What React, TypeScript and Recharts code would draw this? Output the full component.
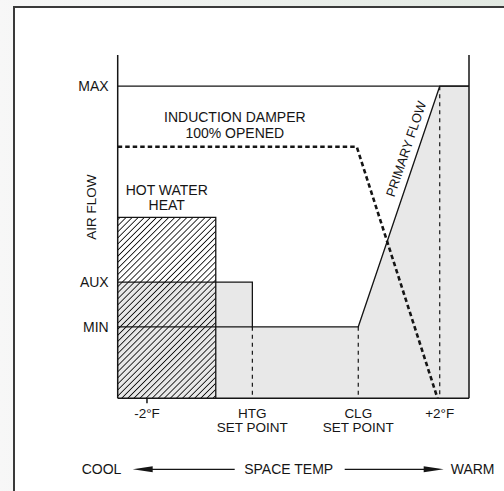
import React from 'react';
import { ComposedChart, Area, Line, XAxis, YAxis, ReferenceLine, ReferenceDot, Label } from 'recharts';

// levels on the air flow scale (MAX = 100)
const MIN = 22.9;
const AUX = 37.2;
const HOT_WATER = 58;
const DAMPER = 80.6;
const MAX = 100;

// space temp positions (-2°F .. +2°F)
const HTG = -0.56;
const CLG = 0.887;
const HW_END = -1.06;
const DAMPER_KNEE = 0.866;
const DAMPER_END = 1.97;

const xTicks = [-2, HTG, CLG, 2];
const xTickLabels = [['-2°F'], ['HTG', 'SET POINT'], ['CLG', 'SET POINT'], ['+2°F']];
const yTicks = [MIN, AUX, MAX];
const yTickLabels = ['MIN', 'AUX', 'MAX'];

const flowX = [-2.4, HTG, HTG, CLG, 2, 2.4];
const flowY = [AUX, AUX, MIN, MIN, MAX, MAX];
const hotWaterX = [-2.4, HW_END, HW_END];
const hotWaterY = [HOT_WATER, HOT_WATER, 0];
const damperX = [-2.4, DAMPER_KNEE, DAMPER_END];
const damperY = [DAMPER, DAMPER, 0];
const minLineX = [-2.4, HTG];

const zip = (xs: number[], ys: number[]) => xs.map((x, i) => ({ x, y: ys[i] }));

const flowData = zip(flowX, flowY);
const hotWaterData = zip(hotWaterX, hotWaterY);
const damperData = zip(damperX, damperY);
const minLineData = minLineX.map((x) => ({ x, y: MIN }));
const htgDrop = [{ x: HTG, y: MIN }, { x: HTG, y: 0 }];
const clgDrop = [{ x: CLG, y: MIN }, { x: CLG, y: 0 }];
const warmDrop = [{ x: 2, y: MAX }, { x: 2, y: 0 }];

const FONT = '"Liberation Sans", Arial, Helvetica, sans-serif';
const INK = '#151515';

const XTick = (props: any) => {
  const { x, y, payload } = props;
  const idx = xTicks.indexOf(payload.value);
  const lines = xTickLabels[idx] || [];
  return (
    <g>
      {payload.value === -2 && <line x1={x} x2={x} y1={y} y2={y + 5} stroke={INK} strokeWidth={1.5} />}
      <text x={x} y={y + 19.5} textAnchor="middle" fontSize={13.5} fontFamily={FONT} fill={INK}>
        {lines.map((l, i) => (
          <tspan key={i} x={x} dy={i === 0 ? 0 : 14}>{l}</tspan>
        ))}
      </text>
    </g>
  );
};

const BottomRow = (props: any) => {
  const { x, y } = props.viewBox;
  const cy = y + 71;
  return (
    <g fontFamily={FONT} fontSize={14} fill={INK}>
      <text x={x - 36} y={cy + 5}>COOL</text>
      <line x1={x + 30} x2={x + 117} y1={cy} y2={cy} stroke={INK} strokeWidth={1.2} />
      <polygon points={`${x + 15},${cy} ${x + 35},${cy - 3} ${x + 35},${cy + 3}`} fill={INK} />
      <text x={x + 171} y={cy + 5} textAnchor="middle">SPACE TEMP</text>
      <line x1={x + 227} x2={x + 312} y1={cy} y2={cy} stroke={INK} strokeWidth={1.2} />
      <polygon points={`${x + 326},${cy} ${x + 306},${cy - 3} ${x + 306},${cy + 3}`} fill={INK} />
      <text x={x + 333} y={cy + 5}>WARM</text>
    </g>
  );
};

const AirFlowLabel = (props: any) => {
  const { x, y, width, height } = props.viewBox;
  const lx = x + width - 26;
  const ly = y + height * 0.443;
  return (
    <text x={lx} y={ly} transform={`rotate(-90 ${lx} ${ly})`} textAnchor="middle" dominantBaseline="central"
      fontSize={13.5} fontFamily={FONT} fill={INK}>AIR FLOW</text>
  );
};

const blockLabel = (lines: string[], gap: number) => (props: any) => {
  const { x, y } = props.viewBox;
  return (
    <text x={x} y={y} textAnchor="middle" fontSize={14} fontFamily={FONT} fill={INK}>
      {lines.map((l, i) => (
        <tspan key={i} x={x} y={y + 5 + (i - (lines.length - 1) / 2) * gap}>{l}</tspan>
      ))}
    </text>
  );
};

const PrimaryFlowLabel = (props: any) => {
  const { x, y } = props.viewBox;
  return (
    <text x={x} y={y} transform={`rotate(-71.2 ${x} ${y})`} textAnchor="middle" dominantBaseline="central"
      fontSize={13} fontFamily={FONT} fill={INK}>PRIMARY FLOW</text>
  );
};

export default function App() {
  return (
    <div style={{ position: 'fixed', left: 0, top: 0, width: 504, height: 491, overflow: 'hidden',
      background: 'linear-gradient(to right, #f7f7f7, #e2e9e2)' }}>
      <div style={{ position: 'absolute', left: 13, top: 6, width: 620, height: 620,
        border: '2px solid #3a3a3a', background: '#fff' }} />
      <div style={{ position: 'absolute', left: 0, top: 0 }}>
        <ComposedChart width={504} height={491} margin={{ top: 55, right: 0, bottom: 0, left: 0 }}>
          <defs>
            <pattern id="hatch" width="4.3" height="4.3" patternUnits="userSpaceOnUse" patternTransform="rotate(45)">
              <line x1="2.15" y1="0" x2="2.15" y2="4.3" stroke="#111" strokeWidth="0.9" />
            </pattern>
          </defs>
          <XAxis dataKey="x" type="number" domain={[-2.4, 2.4]} ticks={xTicks} height={92.7}
            axisLine={{ stroke: INK, strokeWidth: 1.5 }} tickLine={false} tickSize={0} tickMargin={0}
            tick={<XTick />} allowDataOverflow interval={0}>
            <Label content={<BottomRow />} />
          </XAxis>
          <YAxis type="number" domain={[0, 110]} ticks={yTicks} width={117.7}
            axisLine={{ stroke: INK, strokeWidth: 1.5 }} tickLine={false} tickSize={0} tickMargin={9}
            tickFormatter={(v: number) => yTickLabels[yTicks.indexOf(v)]}
            tick={{ fill: INK, fontSize: 14, fontFamily: FONT }} interval={0}>
            <Label content={<AirFlowLabel />} />
          </YAxis>
          <YAxis yAxisId="right" orientation="right" type="number" domain={[0, 110]} width={35}
            axisLine={{ stroke: INK, strokeWidth: 1.5 }} tick={false} tickLine={false} />

          <Area data={flowData} dataKey="y" type="linear" fill="#e8e8e8" fillOpacity={1}
            stroke={INK} strokeWidth={1.3} isAnimationActive={false} />
          <Area data={hotWaterData} dataKey="y" type="linear" fill="url(#hatch)" fillOpacity={1}
            stroke={INK} strokeWidth={1.3} isAnimationActive={false} />
          <Line data={minLineData} dataKey="y" type="linear" stroke={INK} strokeWidth={1.3} dot={false} isAnimationActive={false} />
          <Line data={htgDrop} dataKey="y" type="linear" stroke={INK} strokeWidth={1.2} strokeDasharray="4 4" dot={false} isAnimationActive={false} />
          <Line data={clgDrop} dataKey="y" type="linear" stroke={INK} strokeWidth={1.2} strokeDasharray="4 4" dot={false} isAnimationActive={false} />
          <Line data={warmDrop} dataKey="y" type="linear" stroke={INK} strokeWidth={1.2} strokeDasharray="4 4" dot={false} isAnimationActive={false} />
          <Line data={damperData} dataKey="y" type="linear" stroke={INK} strokeWidth={2.6} strokeDasharray="4.5 3" dot={false} isAnimationActive={false} />
          <ReferenceLine y={MAX} stroke={INK} strokeWidth={1.3} />

          <ReferenceDot x={-0.8} y={87.6} r={0} fill="none" stroke="none"
            label={blockLabel(['INDUCTION DAMPER', '100% OPENED'], 16.5)} />
          <ReferenceDot x={-1.73} y={64.2} r={0} fill="none" stroke="none"
            label={blockLabel(['HOT WATER', 'HEAT'], 15)} />
          <ReferenceDot x={1.54} y={79.9} r={0} fill="none" stroke="none" label={PrimaryFlowLabel} />
        </ComposedChart>
      </div>
    </div>
  );
}
